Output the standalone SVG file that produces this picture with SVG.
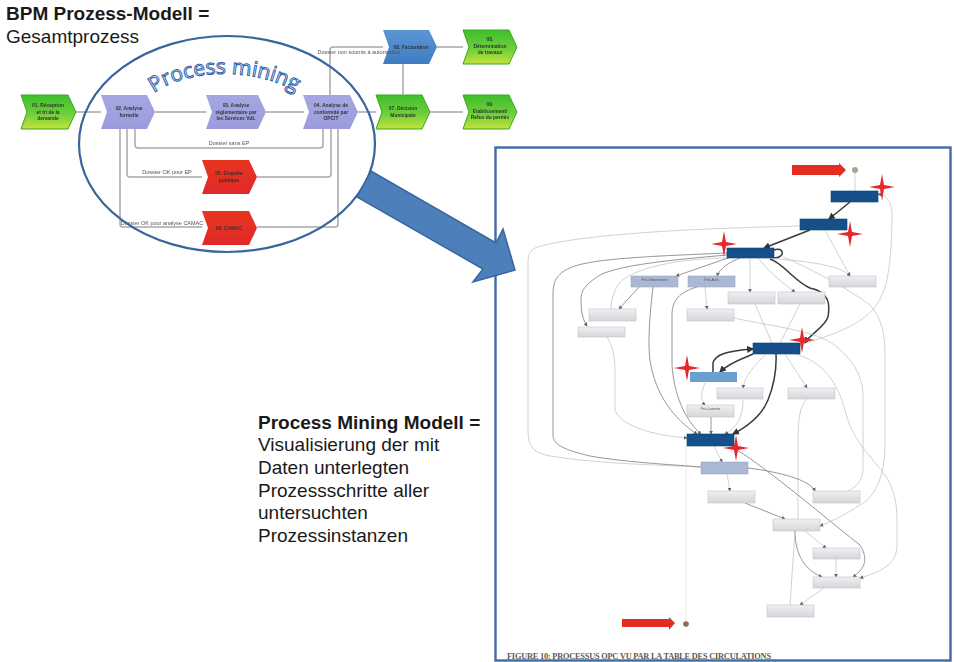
<svg xmlns="http://www.w3.org/2000/svg" width="954" height="662" viewBox="0 0 954 662">
<defs>
<linearGradient id="gg" x1="0" y1="0" x2="0" y2="1"><stop offset="0" stop-color="#3fbf2c"/><stop offset="0.55" stop-color="#6ccf3a"/><stop offset="1" stop-color="#c4e23a"/></linearGradient>
<linearGradient id="gl" x1="0" y1="0" x2="0" y2="1"><stop offset="0" stop-color="#a5a7e2"/><stop offset="1" stop-color="#9a9cdc"/></linearGradient>
<linearGradient id="gr" x1="0" y1="0" x2="0" y2="1"><stop offset="0" stop-color="#e8341f"/><stop offset="1" stop-color="#e02a2a"/></linearGradient>
<linearGradient id="gb" x1="0" y1="0" x2="0" y2="1"><stop offset="0" stop-color="#5b96d6"/><stop offset="1" stop-color="#3f7cc0"/></linearGradient>
<linearGradient id="gn" x1="0" y1="0" x2="0" y2="1"><stop offset="0" stop-color="#f0eff2"/><stop offset="1" stop-color="#d6d5da"/></linearGradient>
<marker id="ah" viewBox="0 0 6 6" refX="5" refY="3" markerWidth="4" markerHeight="4" markerUnits="userSpaceOnUse" orient="auto"><path d="M0 0L6 3L0 6Z" fill="#666"/></marker>
<marker id="ahk" viewBox="0 0 6 6" refX="5" refY="3" markerWidth="7" markerHeight="7" markerUnits="userSpaceOnUse" orient="auto"><path d="M0 0L6 3L0 6Z" fill="#333"/></marker>
<filter id="bl" x="-5%" y="-5%" width="110%" height="110%"><feGaussianBlur stdDeviation="0.45"/></filter>
<filter id="bl2" x="-5%" y="-5%" width="110%" height="110%"><feGaussianBlur stdDeviation="0.4"/></filter>
<path id="arc" d="M154 93C185 70 255 64 303 96"/>
</defs>
<style>
text{font-family:"Liberation Sans",Arial,sans-serif}
.h{font-size:19px;fill:#1a1a1a}
.b{font-weight:bold}
.c{fill:none;stroke:#a8a8a8;stroke-width:1.500}
.nl{font-size:4.900px;font-weight:bold;fill:#333;text-anchor:middle}
.cl{font-size:5.500px;fill:#555;text-anchor:middle}
.e{fill:none;stroke:#bdbdbd;stroke-width:.7}
.e2{fill:none;stroke:#8a8a8a;stroke-width:.9}
.e3{fill:none;stroke:#3a3a3a;stroke-width:1.500}
.g{fill:url(#gn);stroke:#c4c4c8;stroke-width:.6}
.l{fill:#aab8d4;stroke:#9aa8c6;stroke-width:.6}
.d{fill:#12508a;stroke:#0e4678;stroke-width:.6}
.m{fill:#6aa0cf}
.gt{font-size:3.800px;fill:#555;text-anchor:middle}
.star{fill:#e8272a}
.ra{fill:#e32d20}
</style>

<g id="node-01" filter="url(#bl2)"><path fill="url(#gg)" stroke="#36a821" d="M21 95H68L76 112L68 129H21L27 112Z"/><text class="nl" x="48" y="107">01. Réception</text><text class="nl" x="48" y="113.500">et tri de la</text><text class="nl" x="48" y="120">demande</text></g>
<g id="node-02" filter="url(#bl2)"><path fill="url(#gl)" d="M101 95H147L155 112L147 129H101L107 112Z"/><text class="nl" x="129" y="110">02. Analyse</text><text class="nl" x="129" y="116.500">formelle</text></g>
<g id="node-03" filter="url(#bl2)"><path fill="url(#gl)" d="M206 95H258L266 112L258 129H206L212 112Z"/><text class="nl" x="236" y="107">03. Analyse</text><text class="nl" x="236" y="113.500">réglementaire par</text><text class="nl" x="236" y="120">les Services VdL</text></g>
<g id="node-04" filter="url(#bl2)"><path fill="url(#gl)" d="M303 95H350L358 112L350 129H303L309 112Z"/><text class="nl" x="331" y="107">04. Analyse de</text><text class="nl" x="331" y="113.500">conformité par</text><text class="nl" x="331" y="120">OPC/T</text></g>
<g id="node-05" filter="url(#bl2)"><path fill="url(#gr)" d="M202 160H249L257 177L249 194H202L208 177Z"/><text class="nl" x="229" y="175">05. Enquête</text><text class="nl" x="229" y="181.500">publique</text></g>
<g id="node-06" filter="url(#bl2)"><path fill="url(#gr)" d="M202 211H249L257 228L249 245H202L208 228Z"/><text class="nl" x="229" y="229.500">06. CAMAC</text></g>
<g id="node-facturation" filter="url(#bl2)"><path fill="url(#gb)" d="M383 30H429L437 47L429 64H383L389 47Z"/><text class="nl" x="411" y="48.500">08. Facturation</text></g>
<g id="node-determination" filter="url(#bl2)"><path fill="url(#gg)" stroke="#36a821" d="M463 30H509L517 47L509 64H463L469 47Z"/><text class="nl" x="490" y="41">08.</text><text class="nl" x="490" y="47.500">Détermination</text><text class="nl" x="490" y="54">de travaux</text></g>
<g id="node-decision" filter="url(#bl2)"><path fill="url(#gg)" stroke="#36a821" d="M376 95H422L430 112L422 129H376L382 112Z"/><text class="nl" x="403" y="110">07. Décision</text><text class="nl" x="403" y="116.500">Municipale</text></g>
<g id="node-etablissement" filter="url(#bl2)"><path fill="url(#gg)" stroke="#36a821" d="M463 95H509L517 112L509 129H463L469 112Z"/><text class="nl" x="490" y="106">09.</text><text class="nl" x="490" y="112.500">Etablissement/</text><text class="nl" x="490" y="119">Refus du permis</text></g>

<g id="connectors" filter="url(#bl2)">
<path class="c" d="M76 112H101M155 112H206M266 112H304M358 112H376M430 112H463M437 47H463M403 64V95"/>
<path class="c" d="M135 129V145Q135 148 138 148H320Q323 148 323 145V129"/>
<path class="c" d="M127 129V174Q127 177 130 177H202M257 177H328Q331 177 331 174V129"/>
<path class="c" d="M120 129V224Q120 227 123 227H202M257 227H335Q338 227 338 224V129"/>
<path class="c" d="M330 95V50Q330 47 333 47H383"/>
<text class="cl" x="229" y="145">Dossier sans EP</text>
<text class="cl" x="167" y="173.500">Dossier OK pour EP</text>
<text class="cl" x="162" y="224.500">Dossier OK pour analyse CAMAC</text>
<text class="cl" x="359" y="53.500">Dossier non soumis à autorisation</text>
</g>

<g id="process-mining">
<ellipse cx="227" cy="144" rx="148" ry="108" fill="none" stroke="#38659c" stroke-width="2.200"/>
<text font-size="21" fill="#fff" stroke="#2d62ad" stroke-width="1" style="font-family:'Open Sans',sans-serif"><textPath href="#arc" startOffset="0">Process mining</textPath></text>
</g>

<g id="panel"><rect x="495.500" y="147.500" width="455" height="513" fill="#fff" stroke="#3f6ca6" stroke-width="2.400"/></g>
<g id="big-arrow"><path fill="#4d7fba" stroke="#38659c" stroke-width="1.500" stroke-linejoin="miter" d="M371 171L357 197L483 269L473 282L515 270L503 229L496 243Z"/></g>
<text x="507" y="659" font-size="8.300" font-weight="bold" fill="#5a5a52" style="font-family:'Liberation Serif',serif" textLength="264" lengthAdjust="spacing">FIGURE 10: PROCESSUS OPC VU PAR LA TABLE DES CIRCULATIONS</text>

<g id="graph-connectors" filter="url(#bl)">
<path class="e" d="M855 173V191"/>
<path class="e3" marker-end="url(#ahk)" d="M850 202L829 219"/>
<path class="e3" marker-end="url(#ahk)" d="M810 230L764 248"/>
<path class="e3" d="M774 250C784 246 786 258 774 258"/>
<path class="e3" marker-end="url(#ahk)" d="M770 259C782 262 795 282 810 288C830 292 830 305 828 317C824 328 810 334 805 343"/>
<path class="e3" marker-end="url(#ahk)" d="M713 372V363C715 355 725 351 753 349"/>
<path class="e3" marker-end="url(#ahk)" d="M753 354C745 358 730 362 720 372"/>
<path class="e3" marker-end="url(#ahk)" d="M776 354C777 375 772 390 768 400C762 415 750 425 733 434"/>
<path class="e" d="M800 226C720 228 600 232 545 245C530 248 528 252 528 265V430C528 448 535 453 550 456C600 464 660 465 701 467"/>
<path class="e2" d="M727 253C660 256 590 258 570 268C556 274 553 282 553 295V435C553 445 565 450 590 456C630 463 680 465 701 467"/>
<path class="e2" marker-end="url(#ah)" d="M727 255C670 260 620 265 600 275C585 285 581 290 581 300C581 312 583 320 587 326"/>
<path class="e" d="M730 258C680 258 630 268 618 285C612 295 611 305 611 309"/>
<path class="e2" marker-end="url(#ah)" d="M728 258L676 276"/>
<path class="e2" marker-end="url(#ah)" d="M740 258C730 262 720 268 717 276"/>
<path class="e" marker-end="url(#ah)" d="M750 258V292"/>
<path class="e" marker-end="url(#ah)" d="M758 258C772 275 785 285 795 292"/>
<path class="e" marker-end="url(#ah)" d="M770 258C810 262 840 265 850 276"/>
<path class="e" marker-end="url(#ah)" d="M825 230L850 276"/>
<path class="e2" marker-end="url(#ah)" d="M640 286L619 309"/>
<path class="e" marker-end="url(#ah)" d="M705 287L707 309"/>
<path class="e2" marker-end="url(#ah)" d="M653 287C649 320 648 345 650 360C655 395 675 420 697 434"/>
<path class="e2" marker-end="url(#ah)" d="M697 287C680 292 672 300 672 315V365C674 395 685 420 701 434"/>
<path class="e" marker-end="url(#ah)" d="M607 337C612 345 615 355 615 370V410C620 425 650 435 687 438"/>
<path class="e" d="M755 304L772 343M800 304L780 343"/>
<path class="e" marker-end="url(#ah)" d="M765 355C755 365 745 375 743 388"/>
<path class="e" marker-end="url(#ah)" d="M705 383C701 392 700 400 705 405"/>
<path class="e2" marker-end="url(#ah)" d="M711 417V434"/>
<path class="e" marker-end="url(#ah)" d="M743 400C743 420 735 428 725 434"/>
<path class="e" marker-end="url(#ah)" d="M785 354L807 388"/>
<path class="e" d="M807 399C800 405 798 420 798 440V519"/>
<path class="e" marker-end="url(#ah)" d="M795 354C825 362 838 385 845 410C852 440 870 455 885 475C895 490 897 505 897 520V545C897 565 880 572 860 578"/>
<path class="e" marker-end="url(#ah)" d="M800 345C830 335 870 325 882 295C890 280 892 240 892 215C892 200 885 195 878 194"/>
<path class="e" d="M734 318C765 325 810 330 830 342C850 355 863 375 863 395V470C863 480 855 488 848 491"/>
<path class="e" marker-end="url(#ah)" d="M783 257C810 268 850 290 870 305C882 318 885 335 885 355V445C885 475 875 498 860 505C845 515 830 522 820 526"/>
<path class="e" marker-end="url(#ah)" d="M714 446L722 462"/>
<path class="e2" marker-end="url(#ah)" d="M737 450C770 470 840 530 860 545C868 558 866 568 853 577"/>
<path class="e2" marker-end="url(#ah)" d="M748 468C780 472 810 480 815 491"/>
<path class="e" marker-end="url(#ah)" d="M727 474L730 491"/>
<path class="e2" marker-end="url(#ah)" d="M745 503L785 519"/>
<path class="e" marker-end="url(#ah)" d="M805 531L826 548"/>
<path class="e2" marker-end="url(#ah)" d="M795 531C795 555 805 570 822 577"/>
<path class="e" marker-end="url(#ah)" d="M836 559V577"/>
<path class="e" marker-end="url(#ah)" d="M824 588L800 605"/>
<path class="e" d="M790 605L795 531"/>
<path class="e" style="stroke:#ddd" d="M686 446V621"/>
</g>

<g id="graph-nodes" filter="url(#bl)">
<g id="g-start"><circle cx="855" cy="170" r="3" fill="#a0a890"/></g>
<g id="g-end"><circle cx="686" cy="624" r="2.800" fill="#8c6a60"/></g>
<g id="g1"><rect class="d" x="831" y="191" width="47" height="11"/></g>
<g id="g2"><rect class="d" x="800" y="219" width="47" height="11"/></g>
<g id="g3"><rect class="d" x="727" y="248" width="47" height="10"/></g>
<g id="g4"><rect class="l" x="631" y="276" width="47" height="11"/><text class="gt" x="654.500" y="281">Pré-Information</text></g>
<g id="g5"><rect class="l" x="688" y="276" width="47" height="11"/><text class="gt" x="711.500" y="281">Pré-Avis</text></g>
<g id="g6"><rect class="g" x="589" y="309" width="47" height="12"/></g>
<g id="g7"><rect class="g" x="578" y="327" width="47" height="10"/></g>
<g id="g8"><rect class="g" x="687" y="309" width="47" height="12"/></g>
<g id="g9"><rect class="g" x="728" y="292" width="47" height="12"/></g>
<g id="g10"><rect class="g" x="778" y="292" width="47" height="12"/></g>
<g id="g11"><rect class="g" x="829" y="276" width="47" height="11"/></g>
<g id="g12"><rect class="d" x="753" y="343" width="47" height="11"/></g>
<g id="g13"><rect class="m" x="690" y="372" width="47" height="10"/></g>
<g id="g14"><rect class="g" x="717" y="388" width="46" height="11"/></g>
<g id="g15"><rect class="g" x="788" y="388" width="47" height="11"/></g>
<g id="g16"><rect class="g" x="687" y="405" width="47" height="12"/><text class="gt" x="710.500" y="410">Pré-Latente</text></g>
<g id="g17"><rect class="d" x="687" y="434" width="47" height="12"/></g>
<g id="g18"><rect class="l" x="701" y="462" width="47" height="12"/></g>
<g id="g19"><rect class="g" x="708" y="491" width="47" height="12"/></g>
<g id="g20"><rect class="g" x="813" y="491" width="47" height="12"/></g>
<g id="g21"><rect class="g" x="773" y="519" width="47" height="12"/></g>
<g id="g22"><rect class="g" x="813" y="548" width="47" height="11"/></g>
<g id="g23"><rect class="g" x="813" y="577" width="47" height="11"/></g>
<g id="g24"><rect class="g" x="767" y="605" width="47" height="12"/></g>
</g>

<g id="markers">
<path class="ra" d="M792 165H839V163L846 170L839 177V175H792Z"/>
<path class="ra" d="M622 619H669V617L675 623L669 630V627H622Z"/>
<path class="star" d="M882 174L884 185L895 187L884 189L882 201L880 189L869 187L880 185Z"/>
<path class="star" d="M850 221L852 232L863 234L852 236L850 247L848 236L837 234L848 232Z"/>
<path class="star" d="M724 231L726 242L737 244L726 246L724 257L722 246L711 244L722 242Z"/>
<path class="star" d="M802 327L804 338L815 340L804 342L802 353L800 342L789 340L800 338Z"/>
<path class="star" d="M687 355L689 366L700 368L689 370L687 381L685 370L674 368L685 366Z"/>
<path class="star" d="M736 435L738 446L749 448L738 450L736 461L734 450L723 448L734 446Z"/>
</g>

<g id="labels">
<text class="h b" x="6" y="20">BPM Prozess-Modell =</text>
<text class="h" x="6" y="43">Gesamtprozess</text>
<text class="h b" x="258" y="429">Process Mining Modell =</text>
<text class="h" x="258" y="451">Visualisierung der mit</text>
<text class="h" x="258" y="474">Daten unterlegten</text>
<text class="h" x="258" y="497">Prozessschritte aller</text>
<text class="h" x="258" y="519">untersuchten</text>
<text class="h" x="258" y="542">Prozessinstanzen</text>
</g>
</svg>
